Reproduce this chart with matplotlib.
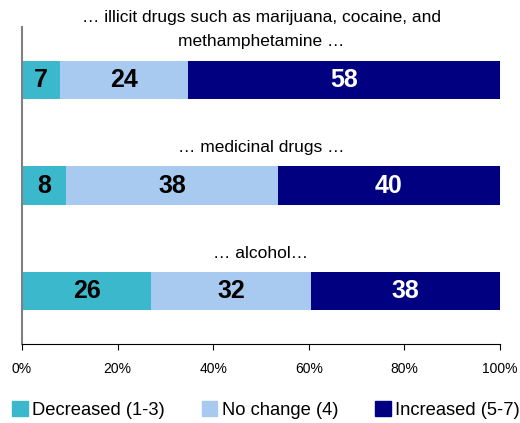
import numpy as np
import matplotlib
matplotlib.use("Agg")
import matplotlib.pyplot as plt
from matplotlib import font_manager
from matplotlib.patches import Patch

# survey results: change in use of ...
categories = ["\u2026 illicit drugs such as marijuana, cocaine, and\nmethamphetamine \u2026",
              "\u2026 medicinal drugs \u2026",
              "\u2026 alcohol\u2026"]
decreased = [7, 8, 26]
no_change = [24, 38, 32]
increased = [58, 40, 38]
series_names = ["Decreased (1-3)", "No change (4)", "Increased (5-7)"]
colors = ["#3cb8cc", "#a8caf0", "#000080"]
text_colors = ["black", "black", "white"]
ticks = [0, 20, 40, 60, 80, 100]

names = {f.name for f in font_manager.fontManager.ttflist}
narrow = "Liberation Sans Narrow" if "Liberation Sans Narrow" in names else "Liberation Sans"
plt.rcParams["font.family"] = ["Liberation Sans", "DejaVu Sans"]

data = np.array([decreased, no_change, increased], dtype=float)
pct = data / data.sum(axis=0) * 100

fig = plt.figure(figsize=(5.2, 4.23), dpi=100)
ax = fig.add_axes([22 / 520, 1 - 344 / 423, 478 / 520, 317 / 423])

y = np.arange(len(categories))
left = np.zeros(len(categories))
for i in range(3):
    ax.barh(y, pct[i], left=left, height=0.36, color=colors[i], label=series_names[i])
    for j in range(len(categories)):
        ax.text(left[j] + pct[i][j] / 2, y[j], "%d" % data[i][j], ha="center", va="center",
                fontsize=18, fontweight="bold", color=text_colors[i])
    left += pct[i]

for j, cat in enumerate(categories):
    ax.text(50, y[j] - 0.29, cat, ha="center", va="bottom", fontsize=12.5,
            family=[narrow, "DejaVu Sans"], clip_on=False, linespacing=1.75)

ax.set_xlim(0, 100)
ax.set_ylim(2.5, -0.5)
ax.set_yticks([])
ax.set_xticks(ticks)
ax.set_xticklabels(["%d%%" % t for t in ticks], fontsize=10)
ax.tick_params(axis="x", direction="out", length=4, width=0.8, pad=9)
for s in ["top", "right"]:
    ax.spines[s].set_visible(False)
ax.spines["left"].set_color("#808080")
ax.spines["left"].set_linewidth(1.5)
ax.spines["bottom"].set_color("black")
ax.spines["bottom"].set_linewidth(0.8)

handles = [Patch(color=c) for c in colors]
fig.legend(handles, series_names, loc="center", bbox_to_anchor=(0.512, 1 - 410 / 423),
           ncol=3, frameon=False, prop={"family": [narrow, "DejaVu Sans"], "size": 13.2},
           handlelength=0.85, handleheight=0.85, handletextpad=0.25, columnspacing=2.0,
           borderaxespad=0)

fig.savefig("out.png", dpi=100)
